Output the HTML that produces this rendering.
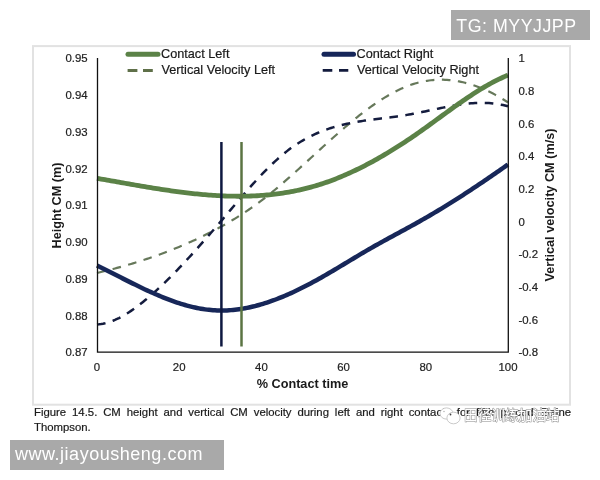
<!DOCTYPE html>
<html><head><meta charset="utf-8"><style>
html,body{margin:0;padding:0;background:#fff;}
body{width:600px;height:480px;overflow:hidden;position:relative;font-family:"Liberation Sans",Arial,sans-serif;}
svg{position:absolute;left:0;top:0;}
.cap{position:absolute;left:34px;top:404.8px;width:537px;font-size:11.35px;line-height:14.8px;color:#1a1a1a;-webkit-text-stroke:0.2px #1a1a1a;}
.cap .l1{text-align:justify;text-align-last:justify;white-space:nowrap;}
.wm1{position:absolute;left:451px;top:10px;width:139px;height:29.5px;background:#a9a9a9;color:#fff;font-size:17.8px;line-height:32.5px;padding-left:5.3px;letter-spacing:0.52px;box-sizing:border-box;}
.wm2{position:absolute;left:10px;top:440px;width:214px;height:29.6px;background:#a9a9a9;color:#fff;font-size:18px;line-height:28px;padding-left:5px;letter-spacing:0.52px;box-sizing:border-box;}
</style></head><body>
<svg width="600" height="480" viewBox="0 0 600 480">
<rect x="33" y="46.1" width="537" height="358.6" fill="#fff" stroke="#e2e2e2" stroke-width="2"/>
<g fill="none" stroke-linecap="butt">
<path d="M97.0,272.95 L99.0,272.48 L101.0,272.00 L103.0,271.51 L105.0,271.02 L107.0,270.52 L109.0,270.01 L111.0,269.50 L113.0,268.98 L115.0,268.45 L117.0,267.91 L119.0,267.37 L121.0,266.82 L123.0,266.26 L125.0,265.69 L127.0,265.11 L129.0,264.53 L131.0,263.94 L133.0,263.34 L135.0,262.73 L137.0,262.11 L139.0,261.48 L141.0,260.85 L143.0,260.20 L145.0,259.55 L147.0,258.89 L149.0,258.21 L151.0,257.53 L153.0,256.84 L155.0,256.14 L157.0,255.43 L159.0,254.71 L161.0,253.98 L163.0,253.24 L165.0,252.48 L167.0,251.72 L169.0,250.95 L171.0,250.17 L173.0,249.37 L175.0,248.57 L177.0,247.75 L179.0,246.92 L181.0,246.08 L183.0,245.23 L185.0,244.37 L187.0,243.50 L189.0,242.61 L191.0,241.71 L193.0,240.81 L195.0,239.88 L197.0,238.95 L199.0,238.00 L201.0,237.05 L203.0,236.07 L205.0,235.09 L207.0,234.09 L209.0,233.08 L211.0,232.06 L213.0,231.02 L215.0,229.97 L217.0,228.91 L219.0,227.83 L221.0,226.73 L223.0,225.62 L225.0,224.49 L227.0,223.34 L229.0,222.18 L231.0,221.00 L233.0,219.80 L235.0,218.59 L237.0,217.35 L239.0,216.09 L241.0,214.82 L243.0,213.52 L245.0,212.21 L247.0,210.87 L249.0,209.51 L251.0,208.13 L253.0,206.72 L255.0,205.29 L257.0,203.84 L259.0,202.37 L261.0,200.87 L263.0,199.34 L265.0,197.80 L267.0,196.22 L269.0,194.63 L271.0,193.02 L273.0,191.38 L275.0,189.73 L277.0,188.05 L279.0,186.36 L281.0,184.66 L283.0,182.94 L285.0,181.20 L287.0,179.45 L289.0,177.69 L291.0,175.92 L293.0,174.13 L295.0,172.34 L297.0,170.54 L299.0,168.73 L301.0,166.91 L303.0,165.09 L305.0,163.27 L307.0,161.44 L309.0,159.61 L311.0,157.77 L313.0,155.94 L315.0,154.10 L317.0,152.27 L319.0,150.44 L321.0,148.61 L323.0,146.79 L325.0,144.97 L327.0,143.16 L329.0,141.35 L331.0,139.55 L333.0,137.76 L335.0,135.98 L337.0,134.21 L339.0,132.46 L341.0,130.71 L343.0,128.98 L345.0,127.26 L347.0,125.56 L349.0,123.88 L351.0,122.21 L353.0,120.56 L355.0,118.92 L357.0,117.31 L359.0,115.72 L361.0,114.15 L363.0,112.61 L365.0,111.09 L367.0,109.59 L369.0,108.12 L371.0,106.67 L373.0,105.26 L375.0,103.87 L377.0,102.51 L379.0,101.18 L381.0,99.88 L383.0,98.62 L385.0,97.38 L387.0,96.19 L389.0,95.02 L391.0,93.90 L393.0,92.81 L395.0,91.75 L397.0,90.74 L399.0,89.77 L401.0,88.84 L403.0,87.94 L405.0,87.10 L407.0,86.29 L409.0,85.53 L411.0,84.82 L413.0,84.15 L415.0,83.53 L417.0,82.96 L419.0,82.43 L421.0,81.95 L423.0,81.52 L425.0,81.13 L427.0,80.80 L429.0,80.50 L431.0,80.26 L433.0,80.05 L435.0,79.90 L437.0,79.79 L439.0,79.72 L441.0,79.69 L443.0,79.72 L445.0,79.78 L447.0,79.89 L449.0,80.04 L451.0,80.23 L453.0,80.47 L455.0,80.74 L457.0,81.06 L459.0,81.42 L461.0,81.82 L463.0,82.27 L465.0,82.75 L467.0,83.27 L469.0,83.84 L471.0,84.44 L473.0,85.08 L475.0,85.76 L477.0,86.48 L479.0,87.24 L481.0,88.04 L483.0,88.87 L485.0,89.74 L487.0,90.65 L489.0,91.60 L491.0,92.58 L493.0,93.60 L495.0,94.65 L497.0,95.74 L499.0,96.87 L501.0,98.03 L503.0,99.23 L505.0,100.46 L507.0,101.72 L508.0,102.37" stroke="#66785a" stroke-width="2.2" stroke-dasharray="8.6 7.5"/>
<path d="M97.0,324.52 L99.0,324.34 L101.0,324.08 L103.0,323.73 L105.0,323.29 L107.0,322.76 L109.0,322.16 L111.0,321.48 L113.0,320.72 L115.0,319.89 L117.0,318.98 L119.0,318.01 L121.0,316.97 L123.0,315.87 L125.0,314.71 L127.0,313.49 L129.0,312.21 L131.0,310.89 L133.0,309.51 L135.0,308.08 L137.0,306.61 L139.0,305.10 L141.0,303.54 L143.0,301.95 L145.0,300.33 L147.0,298.67 L149.0,296.98 L151.0,295.25 L153.0,293.50 L155.0,291.71 L157.0,289.89 L159.0,288.05 L161.0,286.18 L163.0,284.28 L165.0,282.35 L167.0,280.40 L169.0,278.43 L171.0,276.43 L173.0,274.41 L175.0,272.36 L177.0,270.30 L179.0,268.22 L181.0,266.11 L183.0,263.99 L185.0,261.85 L187.0,259.69 L189.0,257.52 L191.0,255.33 L193.0,253.13 L195.0,250.92 L197.0,248.69 L199.0,246.45 L201.0,244.20 L203.0,241.94 L205.0,239.67 L207.0,237.39 L209.0,235.10 L211.0,232.80 L213.0,230.49 L215.0,228.18 L217.0,225.85 L219.0,223.51 L221.0,221.17 L223.0,218.82 L225.0,216.46 L227.0,214.10 L229.0,211.73 L231.0,209.36 L233.0,207.00 L235.0,204.64 L237.0,202.28 L239.0,199.94 L241.0,197.60 L243.0,195.28 L245.0,192.98 L247.0,190.68 L249.0,188.41 L251.0,186.16 L253.0,183.93 L255.0,181.73 L257.0,179.55 L259.0,177.40 L261.0,175.27 L263.0,173.18 L265.0,171.12 L267.0,169.10 L269.0,167.11 L271.0,165.16 L273.0,163.25 L275.0,161.38 L277.0,159.55 L279.0,157.77 L281.0,156.04 L283.0,154.35 L285.0,152.71 L287.0,151.13 L289.0,149.60 L291.0,148.12 L293.0,146.70 L295.0,145.32 L297.0,144.00 L299.0,142.72 L301.0,141.50 L303.0,140.32 L305.0,139.18 L307.0,138.09 L309.0,137.04 L311.0,136.03 L313.0,135.07 L315.0,134.14 L317.0,133.26 L319.0,132.41 L321.0,131.59 L323.0,130.82 L325.0,130.07 L327.0,129.36 L329.0,128.68 L331.0,128.03 L333.0,127.41 L335.0,126.82 L337.0,126.26 L339.0,125.72 L341.0,125.21 L343.0,124.72 L345.0,124.25 L347.0,123.81 L349.0,123.39 L351.0,122.98 L353.0,122.59 L355.0,122.22 L357.0,121.87 L359.0,121.53 L361.0,121.21 L363.0,120.89 L365.0,120.59 L367.0,120.30 L369.0,120.02 L371.0,119.75 L373.0,119.48 L375.0,119.22 L377.0,118.96 L379.0,118.71 L381.0,118.46 L383.0,118.21 L385.0,117.96 L387.0,117.71 L389.0,117.45 L391.0,117.20 L393.0,116.93 L395.0,116.67 L397.0,116.39 L399.0,116.11 L401.0,115.82 L403.0,115.52 L405.0,115.21 L407.0,114.89 L409.0,114.55 L411.0,114.20 L413.0,113.83 L415.0,113.45 L417.0,113.06 L419.0,112.66 L421.0,112.26 L423.0,111.84 L425.0,111.42 L427.0,111.00 L429.0,110.57 L431.0,110.15 L433.0,109.72 L435.0,109.29 L437.0,108.87 L439.0,108.45 L441.0,108.03 L443.0,107.62 L445.0,107.22 L447.0,106.83 L449.0,106.45 L451.0,106.08 L453.0,105.72 L455.0,105.38 L457.0,105.06 L459.0,104.75 L461.0,104.46 L463.0,104.19 L465.0,103.94 L467.0,103.72 L469.0,103.52 L471.0,103.34 L473.0,103.19 L475.0,103.07 L477.0,102.98 L479.0,102.92 L481.0,102.89 L483.0,102.89 L485.0,102.93 L487.0,103.01 L489.0,103.12 L491.0,103.27 L493.0,103.46 L495.0,103.70 L497.0,103.97 L499.0,104.29 L501.0,104.66 L503.0,105.07 L505.0,105.53 L507.0,106.04 L508.0,106.32" stroke="#141c3e" stroke-width="2.5" stroke-dasharray="8.6 7.5"/>
<path d="M97.0,178.33 L99.0,178.68 L101.0,179.02 L103.0,179.37 L105.0,179.72 L107.0,180.07 L109.0,180.42 L111.0,180.77 L113.0,181.13 L115.0,181.48 L117.0,181.83 L119.0,182.19 L121.0,182.54 L123.0,182.89 L125.0,183.25 L127.0,183.60 L129.0,183.95 L131.0,184.30 L133.0,184.65 L135.0,185.00 L137.0,185.34 L139.0,185.69 L141.0,186.03 L143.0,186.37 L145.0,186.70 L147.0,187.04 L149.0,187.37 L151.0,187.70 L153.0,188.02 L155.0,188.35 L157.0,188.67 L159.0,188.98 L161.0,189.29 L163.0,189.60 L165.0,189.90 L167.0,190.20 L169.0,190.49 L171.0,190.78 L173.0,191.06 L175.0,191.34 L177.0,191.61 L179.0,191.88 L181.0,192.14 L183.0,192.39 L185.0,192.64 L187.0,192.88 L189.0,193.12 L191.0,193.34 L193.0,193.56 L195.0,193.78 L197.0,193.98 L199.0,194.18 L201.0,194.37 L203.0,194.55 L205.0,194.73 L207.0,194.89 L209.0,195.05 L211.0,195.20 L213.0,195.34 L215.0,195.47 L217.0,195.59 L219.0,195.70 L221.0,195.80 L223.0,195.90 L225.0,195.98 L227.0,196.05 L229.0,196.11 L231.0,196.16 L233.0,196.20 L235.0,196.22 L237.0,196.24 L239.0,196.24 L241.0,196.24 L243.0,196.22 L245.0,196.19 L247.0,196.14 L249.0,196.09 L251.0,196.02 L253.0,195.94 L255.0,195.84 L257.0,195.74 L259.0,195.61 L261.0,195.48 L263.0,195.33 L265.0,195.17 L267.0,194.99 L269.0,194.80 L271.0,194.59 L273.0,194.37 L275.0,194.14 L277.0,193.89 L279.0,193.62 L281.0,193.34 L283.0,193.04 L285.0,192.73 L287.0,192.40 L289.0,192.05 L291.0,191.69 L293.0,191.31 L295.0,190.91 L297.0,190.50 L299.0,190.07 L301.0,189.62 L303.0,189.15 L305.0,188.67 L307.0,188.16 L309.0,187.64 L311.0,187.10 L313.0,186.55 L315.0,185.97 L317.0,185.37 L319.0,184.76 L321.0,184.12 L323.0,183.47 L325.0,182.80 L327.0,182.11 L329.0,181.39 L331.0,180.66 L333.0,179.92 L335.0,179.15 L337.0,178.36 L339.0,177.56 L341.0,176.74 L343.0,175.90 L345.0,175.04 L347.0,174.16 L349.0,173.27 L351.0,172.36 L353.0,171.44 L355.0,170.49 L357.0,169.53 L359.0,168.56 L361.0,167.56 L363.0,166.55 L365.0,165.53 L367.0,164.49 L369.0,163.43 L371.0,162.36 L373.0,161.27 L375.0,160.17 L377.0,159.05 L379.0,157.92 L381.0,156.77 L383.0,155.60 L385.0,154.43 L387.0,153.24 L389.0,152.03 L391.0,150.81 L393.0,149.58 L395.0,148.33 L397.0,147.07 L399.0,145.80 L401.0,144.51 L403.0,143.21 L405.0,141.90 L407.0,140.58 L409.0,139.24 L411.0,137.89 L413.0,136.53 L415.0,135.15 L417.0,133.77 L419.0,132.37 L421.0,130.96 L423.0,129.54 L425.0,128.11 L427.0,126.68 L429.0,125.24 L431.0,123.79 L433.0,122.34 L435.0,120.88 L437.0,119.43 L439.0,117.97 L441.0,116.51 L443.0,115.05 L445.0,113.60 L447.0,112.15 L449.0,110.70 L451.0,109.26 L453.0,107.82 L455.0,106.39 L457.0,104.97 L459.0,103.57 L461.0,102.17 L463.0,100.78 L465.0,99.41 L467.0,98.05 L469.0,96.71 L471.0,95.38 L473.0,94.07 L475.0,92.78 L477.0,91.51 L479.0,90.26 L481.0,89.04 L483.0,87.83 L485.0,86.65 L487.0,85.50 L489.0,84.37 L491.0,83.27 L493.0,82.19 L495.0,81.15 L497.0,80.14 L499.0,79.16 L501.0,78.21 L503.0,77.30 L505.0,76.42 L507.0,75.58 L508.0,75.18" stroke="#5b8247" stroke-width="4.8"/>
<path d="M97.0,265.53 L99.0,266.52 L101.0,267.51 L103.0,268.51 L105.0,269.51 L107.0,270.51 L109.0,271.52 L111.0,272.54 L113.0,273.55 L115.0,274.56 L117.0,275.58 L119.0,276.59 L121.0,277.61 L123.0,278.62 L125.0,279.63 L127.0,280.63 L129.0,281.63 L131.0,282.63 L133.0,283.62 L135.0,284.60 L137.0,285.58 L139.0,286.55 L141.0,287.51 L143.0,288.46 L145.0,289.41 L147.0,290.34 L149.0,291.26 L151.0,292.16 L153.0,293.06 L155.0,293.94 L157.0,294.81 L159.0,295.66 L161.0,296.49 L163.0,297.31 L165.0,298.11 L167.0,298.90 L169.0,299.66 L171.0,300.41 L173.0,301.13 L175.0,301.83 L177.0,302.51 L179.0,303.17 L181.0,303.81 L183.0,304.42 L185.0,305.01 L187.0,305.57 L189.0,306.11 L191.0,306.61 L193.0,307.09 L195.0,307.55 L197.0,307.97 L199.0,308.36 L201.0,308.73 L203.0,309.06 L205.0,309.36 L207.0,309.62 L209.0,309.85 L211.0,310.05 L213.0,310.21 L215.0,310.34 L217.0,310.43 L219.0,310.49 L221.0,310.51 L223.0,310.50 L225.0,310.46 L227.0,310.38 L229.0,310.27 L231.0,310.13 L233.0,309.95 L235.0,309.75 L237.0,309.51 L239.0,309.24 L241.0,308.94 L243.0,308.62 L245.0,308.26 L247.0,307.88 L249.0,307.47 L251.0,307.02 L253.0,306.56 L255.0,306.06 L257.0,305.54 L259.0,305.00 L261.0,304.42 L263.0,303.83 L265.0,303.21 L267.0,302.56 L269.0,301.89 L271.0,301.20 L273.0,300.48 L275.0,299.75 L277.0,298.99 L279.0,298.21 L281.0,297.40 L283.0,296.58 L285.0,295.74 L287.0,294.88 L289.0,294.00 L291.0,293.10 L293.0,292.18 L295.0,291.24 L297.0,290.29 L299.0,289.32 L301.0,288.33 L303.0,287.33 L305.0,286.31 L307.0,285.28 L309.0,284.23 L311.0,283.17 L313.0,282.10 L315.0,281.01 L317.0,279.91 L319.0,278.79 L321.0,277.67 L323.0,276.53 L325.0,275.38 L327.0,274.23 L329.0,273.06 L331.0,271.89 L333.0,270.71 L335.0,269.52 L337.0,268.33 L339.0,267.13 L341.0,265.93 L343.0,264.73 L345.0,263.52 L347.0,262.32 L349.0,261.11 L351.0,259.91 L353.0,258.71 L355.0,257.51 L357.0,256.31 L359.0,255.12 L361.0,253.93 L363.0,252.75 L365.0,251.57 L367.0,250.41 L369.0,249.25 L371.0,248.10 L373.0,246.96 L375.0,245.83 L377.0,244.71 L379.0,243.59 L381.0,242.48 L383.0,241.38 L385.0,240.28 L387.0,239.19 L389.0,238.10 L391.0,237.01 L393.0,235.92 L395.0,234.84 L397.0,233.76 L399.0,232.68 L401.0,231.59 L403.0,230.51 L405.0,229.42 L407.0,228.33 L409.0,227.24 L411.0,226.14 L413.0,225.04 L415.0,223.93 L417.0,222.81 L419.0,221.69 L421.0,220.56 L423.0,219.42 L425.0,218.27 L427.0,217.12 L429.0,215.95 L431.0,214.78 L433.0,213.60 L435.0,212.41 L437.0,211.22 L439.0,210.02 L441.0,208.80 L443.0,207.59 L445.0,206.36 L447.0,205.13 L449.0,203.89 L451.0,202.64 L453.0,201.39 L455.0,200.13 L457.0,198.86 L459.0,197.59 L461.0,196.31 L463.0,195.02 L465.0,193.72 L467.0,192.42 L469.0,191.12 L471.0,189.80 L473.0,188.48 L475.0,187.16 L477.0,185.83 L479.0,184.49 L481.0,183.14 L483.0,181.80 L485.0,180.44 L487.0,179.08 L489.0,177.71 L491.0,176.34 L493.0,174.97 L495.0,173.58 L497.0,172.20 L499.0,170.81 L501.0,169.41 L503.0,168.01 L505.0,166.60 L507.0,165.19 L508.0,164.48" stroke="#172759" stroke-width="4.5"/>
<line x1="221.4" y1="142" x2="221.4" y2="346.5" stroke="#0e1840" stroke-width="2.5"/>
<line x1="241.5" y1="142" x2="241.5" y2="346.5" stroke="#5b7443" stroke-width="2.5"/>
</g>
<g stroke="#111" stroke-width="1.3" fill="none">
<path d="M97.5,58 V352.2 H508.3 V58"/>
</g>
<g fill="#222" stroke="#222" stroke-width="0.2" font-size="11.4" font-family="Liberation Sans, Arial, sans-serif">
<text x="87.6" y="62.3" text-anchor="end">0.95</text>
<text x="87.6" y="99.0" text-anchor="end">0.94</text>
<text x="87.6" y="135.8" text-anchor="end">0.93</text>
<text x="87.6" y="172.6" text-anchor="end">0.92</text>
<text x="87.6" y="209.3" text-anchor="end">0.91</text>
<text x="87.6" y="246.1" text-anchor="end">0.90</text>
<text x="87.6" y="282.8" text-anchor="end">0.89</text>
<text x="87.6" y="319.6" text-anchor="end">0.88</text>
<text x="87.6" y="356.3" text-anchor="end">0.87</text>
<text x="518.4" y="62.3">1</text>
<text x="518.4" y="95.0">0.8</text>
<text x="518.4" y="127.6">0.6</text>
<text x="518.4" y="160.3">0.4</text>
<text x="518.4" y="193.0">0.2</text>
<text x="518.4" y="225.6">0</text>
<text x="518.4" y="258.3">-0.2</text>
<text x="518.4" y="291.0">-0.4</text>
<text x="518.4" y="323.6">-0.6</text>
<text x="518.4" y="356.3">-0.8</text>
<text x="97.0" y="370.6" text-anchor="middle">0</text>
<text x="179.2" y="370.6" text-anchor="middle">20</text>
<text x="261.4" y="370.6" text-anchor="middle">40</text>
<text x="343.6" y="370.6" text-anchor="middle">60</text>
<text x="425.8" y="370.6" text-anchor="middle">80</text>
<text x="508.0" y="370.6" text-anchor="middle">100</text>
</g>
<g font-family="Liberation Sans, Arial, sans-serif" font-size="12.7" fill="#1a1a1a">
<line x1="128" y1="54.3" x2="158" y2="54.3" stroke="#5b8247" stroke-width="5" stroke-linecap="round"/>
<line x1="127.6" y1="70.5" x2="153" y2="70.5" stroke="#5f7049" stroke-width="2.8" stroke-dasharray="9.8 5.6"/>
<g stroke="#1a1a1a" stroke-width="0.2">
<text x="161" y="58.1">Contact Left</text>
<text x="161.5" y="74.4">Vertical Velocity Left</text>
<line x1="324" y1="54.3" x2="353.5" y2="54.3" stroke="#162659" stroke-width="5" stroke-linecap="round"/>
<line x1="322.7" y1="70.3" x2="348.3" y2="70.3" stroke="#121a3c" stroke-width="2.8" stroke-dasharray="9.6 6.7"/>
<text x="356.5" y="58.1">Contact Right</text>
<text x="357" y="74.4">Vertical Velocity Right</text>
</g>
<g font-weight="bold">
<text x="302.5" y="388.3" text-anchor="middle">% Contact time</text>
<text transform="translate(60.7,205.5) rotate(-90)" text-anchor="middle">Height CM (m)</text>
<text transform="translate(554,205) rotate(-90)" text-anchor="middle">Vertical velocity CM (m/s)</text>
</g>
</g>
</svg>
<div class="cap"><div class="l1">Figure 14.5. CM height and vertical CM velocity during left and right contacts for fifth placed Elaine</div><div>Thompson.</div></div>
<svg width="600" height="480" viewBox="0 0 600 480" style="position:absolute;left:0;top:0">
<g fill="#fff" stroke="#c4c4c4" stroke-width="0.9">
<ellipse cx="446.5" cy="413.5" rx="6.5" ry="5.6"/>
<ellipse cx="453.5" cy="418" rx="6.6" ry="5.8"/>
<circle cx="450.5" cy="414.5" r="0.9" fill="#444" stroke="none"/>
<circle cx="444" cy="411.5" r="0.7" fill="#aaa" stroke="none"/>
</g>
<text x="464" y="420" font-family="Noto Sans CJK SC, WenQuanYi Zen Hei, sans-serif" font-size="14" letter-spacing="0" fill="#fff" stroke="#8a8a8a" stroke-width="1" paint-order="stroke" textLength="95.5" lengthAdjust="spacingAndGlyphs">田径训练加油站</text>
</svg>
<div class="wm1">TG: MYYJJPP</div>
<div class="wm2">www.jiayousheng.com</div>
</body></html>
